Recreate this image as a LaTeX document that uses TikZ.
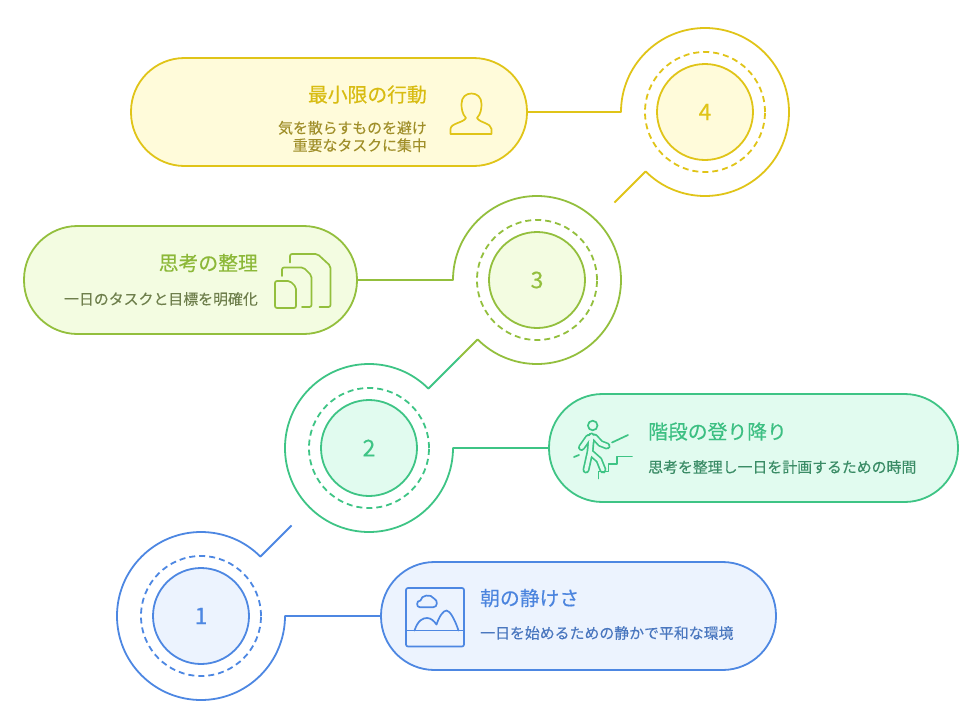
\documentclass[tikz,border=0pt]{standalone}
\usepackage{fontspec}
\setmainfont{Noto Sans CJK JP}
\newfontfamily\titlefont[FakeBold=0.45]{Noto Sans CJK JP}
\newfontfamily\numfont[FakeBold=0.3]{Noto Sans CJK JP}
\newfontfamily\descfont[FakeBold=0.2]{Noto Sans CJK JP}
\usetikzlibrary{calc}
\definecolor{yel}{HTML}{E0C418}
\definecolor{yelfill}{HTML}{FFFBDA}
\definecolor{yeltitle}{HTML}{D8BC12}
\definecolor{yeldesc}{HTML}{A08F2A}
\definecolor{oli}{HTML}{93BF3D}
\definecolor{olifill}{HTML}{F3FCE1}
\definecolor{olititle}{HTML}{8CB838}
\definecolor{olidesc}{HTML}{6E7F4C}
\definecolor{grn}{HTML}{3EC485}
\definecolor{grnfill}{HTML}{E1FBEF}
\definecolor{grntitle}{HTML}{3CBF82}
\definecolor{grndesc}{HTML}{3A8C66}
\definecolor{blu}{HTML}{4D87E2}
\definecolor{blufill}{HTML}{ECF3FE}
\definecolor{blutitle}{HTML}{4B84DE}
\definecolor{bludesc}{HTML}{4A77BF}
\begin{document}
\begin{tikzpicture}[x=1pt,y=1pt,line join=round,
  pill/.style={draw=#1, fill=#1fill, line width=1.8pt, rounded corners=53.5pt, minimum height=108pt, inner sep=0pt},
  numcirc/.style={circle, draw=#1, fill=#1fill, line width=1.8pt, minimum size=96pt, inner sep=0pt, text=#1, font=\numfont\fontsize{23}{27}\selectfont},
  ring/.style={draw=#1, line width=1.8pt, dash pattern=on 6pt off 4pt},
  link/.style={draw=#1, line width=1.8pt},
  title/.style={inner sep=0pt, font=\titlefont\fontsize{19.8}{23}\selectfont},
  desc/.style={inner sep=0pt, font=\descfont\fontsize{14.9}{17.5}\selectfont},
  icon/.style={draw=#1, line width=1.7pt, line cap=round, line join=round}]
\useasboundingbox (0,0) rectangle (978,-723);

% centres
\coordinate (c1) at (201,-616);
\coordinate (c2) at (369,-448);
\coordinate (c3) at (537,-280);
\coordinate (c4) at (705,-112);
\coordinate (t1) at ($(c1)+(45:128)$);
\coordinate (t2) at ($(c2)+(45:128)$);
\coordinate (t4) at ($(c4)+(-135:128)$);

% boxes
\node[pill=yel, minimum width=396pt] (b4) at (329,-112) {};
\node[pill=oli, minimum width=333pt] (b3) at (190.5,-280) {};
\node[pill=grn, minimum width=409pt] (b2) at (753.5,-448) {};
\node[pill=blu, minimum width=395pt] (b1) at (578.5,-616) {};

% connectors with outer arcs
\draw[link=yel] (b4.east) -- ($(c4)+(180:84)$) arc[start angle=180, end angle=-135, radius=84] -- (t4);
\draw[link=oli] (b3.east) -- ($(c3)+(180:84)$) arc[start angle=180, end angle=-135, radius=84] -- (t2);
\draw[link=grn] (t2) -- ($(c2)+(45:84)$) arc[start angle=45, end angle=360, radius=84] -- (b2.west);
\draw[link=blu] (t1) -- ($(c1)+(45:84)$) arc[start angle=45, end angle=360, radius=84] -- (b1.west);

% dashed rings
\draw[ring=yel] (c4) circle[radius=60];
\draw[ring=oli] (c3) circle[radius=60];
\draw[ring=grn] (c2) circle[radius=60];
\draw[ring=blu] (c1) circle[radius=60];

% number circles
\node[numcirc=yel] (n4) at (c4) {4};
\node[numcirc=oli] (n3) at (c3) {3};
\node[numcirc=grn] (n2) at (c2) {2};
\node[numcirc=blu] (n1) at (c1) {1};

% texts
\node[title, text=yeltitle, anchor=east] (h4) at (427,-94.5) {最小限の行動};
\node[desc, text=yeldesc, anchor=east, align=right] (d4) at (427,-136.5) {気を散らすものを避け\\重要なタスクに集中};
\node[title, text=olititle, anchor=east] (h3) at (258,-263) {思考の整理};
\node[desc, text=olidesc, anchor=east] (d3) at (258,-299) {一日のタスクと目標を明確化};
\node[title, text=grntitle, anchor=west] (h2) at (648,-431.5) {階段の登り降り};
\node[desc, text=grndesc, anchor=west] (d2) at (648,-467) {思考を整理し一日を計画するための時間};
\node[title, text=blutitle, anchor=west] (h1) at (480,-598) {朝の静けさ};
\node[desc, text=bludesc, anchor=west] (d1) at (480,-633) {一日を始めるための静かで平和な環境};

\begin{scope}[yscale=-1]
% person icon
\draw[icon=yel] (466,118) .. controls (462,114) and (461.5,108) .. (461.5,104)
  .. controls (461.5,97) and (466,93.5) .. (471.5,93.5)
  .. controls (477,93.5) and (481.5,97) .. (481.5,104)
  .. controls (481.5,108) and (481,114) .. (477,118)
  .. controls (480,123) and (491,123) .. (491.5,129) -- (491.5,134) -- (450.5,134) -- (450.5,129)
  .. controls (451,123) and (463,123) .. cycle;
% documents icon
\draw[icon=oli, rounded corners=2pt] (275,281) -- (290,281) -- (296,287) -- (296,308) -- (275,308) -- cycle;
\draw[icon=oli, rounded corners=2pt] (282,276) -- (282,267.5) -- (303.5,267.5) -- (311.5,275.5) -- (311.5,307) -- (302,307);
\draw[icon=oli, rounded corners=2pt] (290,262.5) -- (290,254) -- (317.5,254) -- (330.5,266) -- (330.5,307) -- (319.5,307);
% walker icon
\draw[grn, line width=1.7pt] (592.7,425.5) circle[radius=4.8];
\draw[grn, line width=1.7pt, double=grnfill, double distance=3.6pt, line cap=round, line join=round]
  (591.5,436) -- (590,452) (588.5,437.5) -- (581.5,447.5) (594.5,437) -- (600.5,443.5) -- (607,446)
  (590,452) -- (586,470) (590,452) -- (599,460) -- (603,470);
\draw[icon=grn] (612,442.5) -- (628,435);
\draw[icon=grn] (574,457) -- (579,455);
\draw[icon=grn] (598.5,478.5) -- (598.5,471.5) -- (608.5,471.5) -- (608.5,464) -- (617,464) -- (617,456.5) -- (632,456.5);
% image icon
\draw[icon=blu, rounded corners=2pt] (406,588) rectangle (464,646.5);
\draw[icon=blu] (406,630.5) -- (464,630.5);
\draw[icon=blu] (420,607.3) .. controls (416,607.3) and (416,600.5) .. (420.5,600.5)
  .. controls (421,595) and (431,593.5) .. (434,598.5)
  .. controls (438,600) and (438,607.3) .. (433,607.3) -- cycle;
\draw[icon=blu] (414.5,630.5) .. controls (418,620) and (423,618) .. (427,618)
  .. controls (431,618) and (434,621) .. (436.5,624.5)
  .. controls (439,617) and (443,610.5) .. (446.5,610.5)
  .. controls (450,610.5) and (455,620) .. (458.5,630.5);
\end{scope}
\end{tikzpicture}
\end{document}
